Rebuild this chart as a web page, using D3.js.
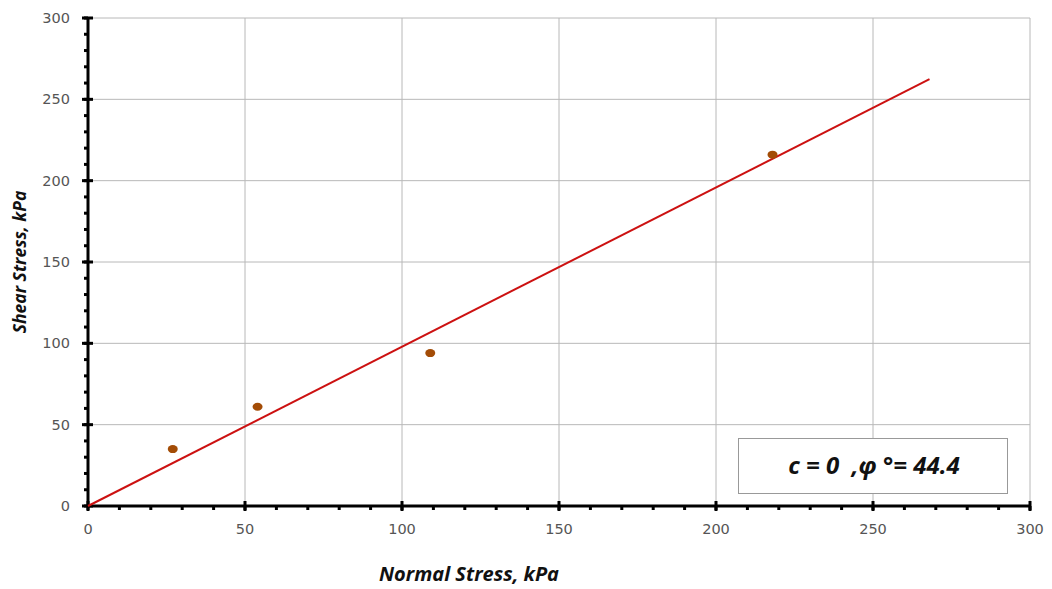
<!DOCTYPE html>
<html>
<head>
<meta charset="utf-8">
<script src="https://cdn.jsdelivr.net/npm/d3@7"></script>
<style>
  body { margin: 0; background: #fff; }
  svg { display: block; }
</style>
</head>
<body>
<div id="chart"></div>
<script>
// test points
const normalStress = [27, 54, 109, 218];
const shearStress = [35, 61, 94, 216];
// failure envelope, c = 0, phi = 44.4
const fitX = [0, 268];
const fitY = [0, 262.4];
const majorTicks = [0, 50, 100, 150, 200, 250, 300];
const minorTicks = d3.range(0, 301, 10);
const note = "c = 0  ,φ °= 44.4";

const width = 1052, height = 589;
const margin = { top: 18, right: 22, bottom: 83, left: 88 };

const svg = d3.select("#chart")
  .append("svg")
  .attr("width", width)
  .attr("height", height);

const x = d3.scaleLinear().domain([0, 300]).range([margin.left, width - margin.right]);
const y = d3.scaleLinear().domain([0, 300]).range([height - margin.bottom, margin.top]);

const tickFont = "'DejaVu Sans', Verdana, sans-serif";
const titleFont = "'Open Sans', Arial, sans-serif";

// grid
svg.append("g")
  .selectAll("line")
  .data(majorTicks.slice(1))
  .join("line")
  .attr("x1", d => x(d)).attr("x2", d => x(d))
  .attr("y1", y(0)).attr("y2", y(300))
  .attr("stroke", "#b8b8b8").attr("stroke-width", 1);

svg.append("g")
  .selectAll("line")
  .data(majorTicks.slice(1))
  .join("line")
  .attr("x1", x(0)).attr("x2", x(300))
  .attr("y1", d => y(d)).attr("y2", d => y(d))
  .attr("stroke", "#b8b8b8").attr("stroke-width", 1);

// minor ticks
svg.append("g")
  .selectAll("line")
  .data(minorTicks)
  .join("line")
  .attr("x1", d => x(d)).attr("x2", d => x(d))
  .attr("y1", y(0)).attr("y2", y(0) + 4)
  .attr("stroke", "#000").attr("stroke-width", 3);

svg.append("g")
  .selectAll("line")
  .data(minorTicks)
  .join("line")
  .attr("x1", x(0) - 4).attr("x2", x(0))
  .attr("y1", d => y(d)).attr("y2", d => y(d))
  .attr("stroke", "#000").attr("stroke-width", 3);

// major ticks
svg.append("g")
  .selectAll("line")
  .data(majorTicks)
  .join("line")
  .attr("x1", d => x(d)).attr("x2", d => x(d))
  .attr("y1", y(0) - 5).attr("y2", y(0) + 5)
  .attr("stroke", "#000").attr("stroke-width", 3);

svg.append("g")
  .selectAll("line")
  .data(majorTicks)
  .join("line")
  .attr("x1", x(0) - 6).attr("x2", x(0) + 5)
  .attr("y1", d => y(d)).attr("y2", d => y(d))
  .attr("stroke", "#000").attr("stroke-width", 3);

// axis lines
svg.append("line")
  .attr("x1", x(0)).attr("x2", x(300))
  .attr("y1", y(0)).attr("y2", y(0))
  .attr("stroke", "#000").attr("stroke-width", 3);
svg.append("line")
  .attr("x1", x(0)).attr("x2", x(0))
  .attr("y1", y(0)).attr("y2", y(300))
  .attr("stroke", "#000").attr("stroke-width", 3);

// tick labels
svg.append("g")
  .selectAll("text")
  .data(majorTicks)
  .join("text")
  .attr("x", d => x(d))
  .attr("y", y(0) + 28)
  .attr("text-anchor", "middle")
  .style("font-family", tickFont)
  .style("font-size", "14.5px")
  .style("fill", "#555")
  .text(d => d);

svg.append("g")
  .selectAll("text")
  .data(majorTicks)
  .join("text")
  .attr("x", x(0) - 18)
  .attr("y", d => y(d))
  .attr("dy", "0.35em")
  .attr("text-anchor", "end")
  .style("font-family", tickFont)
  .style("font-size", "14.5px")
  .style("fill", "#555")
  .text(d => d);

// fit line
svg.append("path")
  .datum(d3.zip(fitX, fitY))
  .attr("d", d3.line().x(d => x(d[0])).y(d => y(d[1])))
  .attr("fill", "none")
  .attr("stroke", "#cc1111")
  .attr("stroke-width", 2);

// points
svg.append("g")
  .selectAll("ellipse")
  .data(d3.zip(normalStress, shearStress))
  .join("ellipse")
  .attr("cx", d => x(d[0]))
  .attr("cy", d => y(d[1]))
  .attr("rx", 5).attr("ry", 4)
  .attr("fill", "#a34c06");

// note box
svg.append("rect")
  .attr("x", 738.5).attr("y", 438.5)
  .attr("width", 269).attr("height", 55)
  .attr("fill", "#fff")
  .attr("stroke", "#999")
  .attr("stroke-width", 1);

svg.append("text")
  .attr("x", 874).attr("y", 466)
  .attr("dy", "0.35em")
  .attr("text-anchor", "middle")
  .style("font-family", titleFont)
  .style("font-size", "24px")
  .style("font-weight", "bold")
  .style("font-style", "italic")
  .style("fill", "#111")
  .style("white-space", "pre")
  .text(note);

// axis titles
svg.append("text")
  .attr("x", 469).attr("y", 581)
  .attr("text-anchor", "middle")
  .style("font-family", titleFont)
  .style("font-size", "20px")
  .style("font-weight", "bold")
  .style("font-style", "italic")
  .style("fill", "#111")
  .text("Normal Stress, kPa");

svg.append("text")
  .attr("transform", "translate(26,262) rotate(-90)")
  .attr("text-anchor", "middle")
  .style("font-family", titleFont)
  .style("font-size", "17.5px")
  .style("font-weight", "bold")
  .style("font-style", "italic")
  .style("fill", "#111")
  .text("Shear Stress, kPa");
</script>
</body>
</html>
